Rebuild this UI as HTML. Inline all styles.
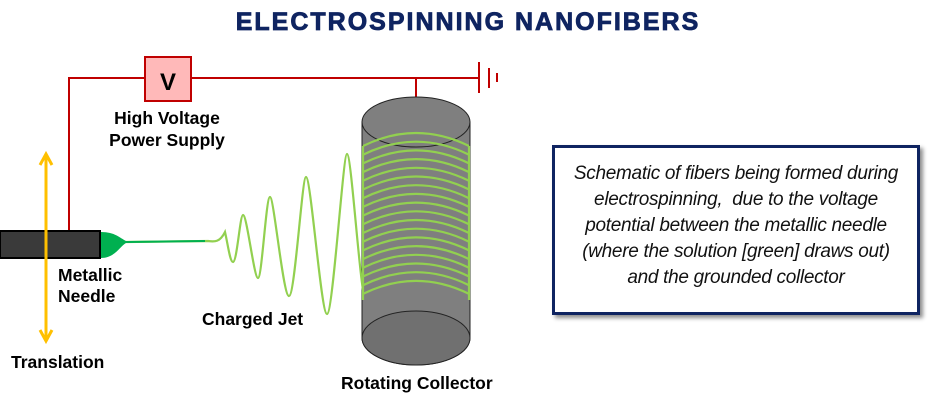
<!DOCTYPE html>
<html><head><meta charset="utf-8"><style>
body{margin:0;background:#fff;width:937px;height:404px;overflow:hidden;font-family:"Liberation Sans",sans-serif}
svg{position:absolute;left:0;top:0}
.box{position:absolute;left:552px;top:145px;width:362px;border:3px solid #0f2461;box-shadow:3px 3px 4px rgba(0,0,0,0.45);background:#fff;text-align:center;font-style:italic;font-size:19px;line-height:26px;color:#111;padding-top:13px;box-sizing:content-box;height:151px;letter-spacing:-0.3px;white-space:nowrap}
</style></head><body>
<svg width="937" height="404" viewBox="0 0 937 404">
<text x="468" y="30" text-anchor="middle" font-size="25" font-weight="bold" letter-spacing="2" fill="#0f2461" stroke="#0f2461" stroke-width="0.8">ELECTROSPINNING NANOFIBERS</text>
<g stroke="#c00000" stroke-width="2" fill="none">
<polyline points="69,231 69,78 145,78"/>
<line x1="191" y1="78" x2="479" y2="78"/>
<line x1="416" y1="78" x2="416" y2="97"/>
<line x1="479" y1="62" x2="479" y2="93"/>
<line x1="489" y1="68" x2="489" y2="88"/>
<line x1="497" y1="73" x2="497" y2="82"/>
</g>
<rect x="145" y="57" width="46" height="44" fill="#ffb9b9" stroke="#c00000" stroke-width="2"/>
<text x="168" y="90" text-anchor="middle" font-size="24" font-weight="bold">V</text>
<g font-size="17.5" font-weight="bold">
<text x="167" y="124" text-anchor="middle">High Voltage</text>
<text x="167" y="146" text-anchor="middle">Power Supply</text>
</g>
<g>
<path d="M362,122 L362,338 A54,27 0 0 0 470,338 L470,122 Z" fill="#7f7f7f" stroke="#222" stroke-width="1"/>
<ellipse cx="416" cy="122" rx="54" ry="25" fill="#7f7f7f" stroke="#222" stroke-width="1"/>
<ellipse cx="416" cy="338" rx="54" ry="27" fill="#707070" stroke="#222" stroke-width="1"/>
</g>
<g id="coils" stroke="#92d050" stroke-width="2.2" fill="none"></g>
<rect x="0" y="231" width="100" height="27" fill="#3a3a3a" stroke="#000" stroke-width="2"/>
<path d="M101,232 C115,232 120,238 126,241 L126,243 C120,246 115,258 101,258 Z" fill="#00b050"/>
<path d="M125,242 L208,241 C215,242 220,242 225,232 C228,245 230,262 233,262 C237,262 240,215 243,215 C247,215 254,278 258,278 C262,278 266,197 270,197 C274,197 283,296 289,296 C295,296 302,177 306,177 C311,177 321,314 327,314 C333,314 343,154 347,154 C351,154 358,260 363,290" stroke="#92d050" stroke-width="2.2" fill="none"/>
<line x1="125" y1="242" x2="205" y2="241" stroke="#00b050" stroke-width="2"/>
<g stroke="#ffc000" stroke-width="3" fill="none">
<line x1="46" y1="155" x2="46" y2="340"/>
<polyline points="40,165 46,154 52,165"/>
<polyline points="40,330 46,341 52,330"/>
</g>
<g font-size="17.5" font-weight="bold">
<text x="58" y="281">Metallic</text>
<text x="58" y="302">Needle</text>
<text x="202" y="325">Charged Jet</text>
<text x="11" y="368">Translation</text>
<text x="341" y="389">Rotating Collector</text>
</g>
</svg>
<div class="box">Schematic of fibers being formed during<br>electrospinning,&nbsp; due to the voltage<br>potential between the metallic needle<br>(where the solution [green] draws out)<br>and the grounded collector</div>
<script>
const coilCount = [18];
const g = document.getElementById('coils');
for (let i = 0; i < coilCount[0]; i++) {
  const y = 132 + i * 8.7;
  const p = document.createElementNS('http://www.w3.org/2000/svg', 'path');
  p.setAttribute('d', `M363,${y+14} Q416,${y-12} 469,${y+14}`);
  
  
  g.appendChild(p);
}
const l = document.createElementNS('http://www.w3.org/2000/svg', 'path');
l.setAttribute('d', 'M363,146 L363,300 M469,146 L469,300');


g.appendChild(l);
</script>
</body></html>
